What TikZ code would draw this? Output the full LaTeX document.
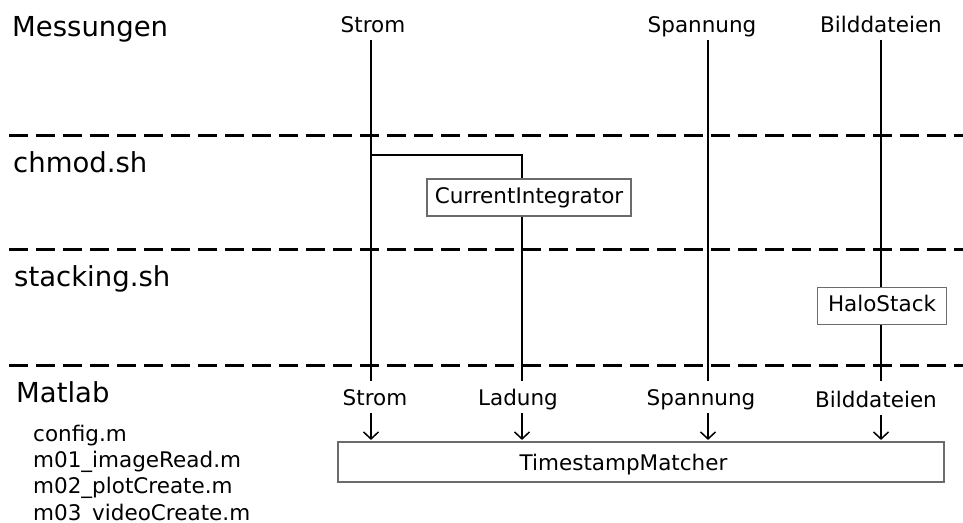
\documentclass[tikz,border=0pt]{standalone}
\usepackage{fontspec}
\setmainfont{DejaVu Sans}
\usetikzlibrary{arrows.meta}

\begin{document}
\begin{tikzpicture}[x=1pt,y=-1pt,
  big/.style={font=\fontsize{27.5}{30}\selectfont, inner sep=0pt},
  small/.style={font=\fontsize{21.5}{24}\selectfont, inner sep=0pt},
  sep/.style={line width=3pt, dash pattern=on 19pt off 8pt},
  wire/.style={line width=1.8pt},
  proc/.style={draw=black!58, line width=1.1pt, fill=white,
    font=\fontsize{21.5}{24}\selectfont, text height=16pt, text depth=5pt,
    inner sep=0pt},
  feed/.style={line width=1.5pt, -{Straight Barb[length=7pt,width=15pt,line width=1.5pt]}}]
\useasboundingbox (0,0) rectangle (963,522);

% layer separators
\coordinate (d1a) at (9,135);  \coordinate (d1b) at (963,135);
\coordinate (d2a) at (9,249);  \coordinate (d2b) at (963,249);
\coordinate (d3a) at (9,365);  \coordinate (d3b) at (963,365);
\draw[sep] (d1a) -- (d1b);
\draw[sep] (d2a) -- (d2b);
\draw[sep] (d3a) -- (d3b);

% layer titles
\node[big, anchor=base west] (tMess) at (12,36) {Messungen};
\node[big, anchor=base west] (tChmod) at (13,172) {chmod.sh};
\node[big, anchor=base west] (tStack) at (14,286) {stacking.sh};
\node[big, anchor=base west] (tMat) at (16,402) {Matlab};

% Matlab scripts
\node[small, anchor=base west] (f1) at (33,441) {config.m};
\node[small, anchor=base west] (f2) at (33,467) {m01\_imageRead.m};
\node[small, anchor=base west] (f3) at (33,493) {m02\_plotCreate.m};
\node[small, anchor=base west] (f4) at (33,520) {m03\_videoCreate.m};

% measured quantities
\node[small, anchor=base] (mStrom) at (373,32) {Strom};
\node[small, anchor=base] (mSpan) at (702,32) {Spannung};
\node[small, anchor=base] (mBild) at (881,32) {Bilddateien};

% channel ends
\coordinate (sTop) at (371,40);  \coordinate (sBot) at (371,381);
\coordinate (uTop) at (708,40);  \coordinate (uBot) at (708,381);
\coordinate (bTop) at (881,40);  \coordinate (bBot) at (881,381);
\coordinate (lTap) at (371,155); \coordinate (lBot) at (522,381);

% processing steps
\node[proc, minimum width=204pt, minimum height=37pt] (ci) at (529,197.5) {CurrentIntegrator};
\node[proc, minimum width=129pt, minimum height=37pt] (hs) at (882,306) {HaloStack};

% channels
\draw[wire] (sTop) -- (sBot);
\draw[wire] (uTop) -- (uBot);
\draw[wire] (bTop) -- (hs.north -| bTop);
\draw[wire] (hs.south -| bTop) -- (bBot);
\draw[wire] (lTap) -| (lBot |- ci.north);
\draw[wire] (lBot |- ci.south) -- (lBot);

% inputs to Matlab
\node[small, anchor=base] (iStrom) at (375,405) {Strom};
\node[small, anchor=base] (iLad) at (518,405) {Ladung};
\node[small, anchor=base] (iSpan) at (701,405) {Spannung};
\node[small, anchor=base] (iBild) at (876,407) {Bilddateien};

\node[draw=black!58, line width=1.1pt, minimum width=606pt, minimum height=40pt, inner sep=0pt] (tsm) at (641,462) {};
\node[small, anchor=base] (tsmText) at (623.5,470) {TimestampMatcher};

\draw[feed] ([yshift=-8pt]sBot |- iStrom.base) -- ([yshift=1.5pt]sBot |- tsm.north);
\draw[feed] ([yshift=-8pt]lBot |- iLad.base) -- ([yshift=1.5pt]lBot |- tsm.north);
\draw[feed] ([yshift=-8pt]uBot |- iSpan.base) -- ([yshift=1.5pt]uBot |- tsm.north);
\draw[feed] ([yshift=-8pt]bBot |- iBild.base) -- ([yshift=1.5pt]bBot |- tsm.north);
\end{tikzpicture}
\end{document}
